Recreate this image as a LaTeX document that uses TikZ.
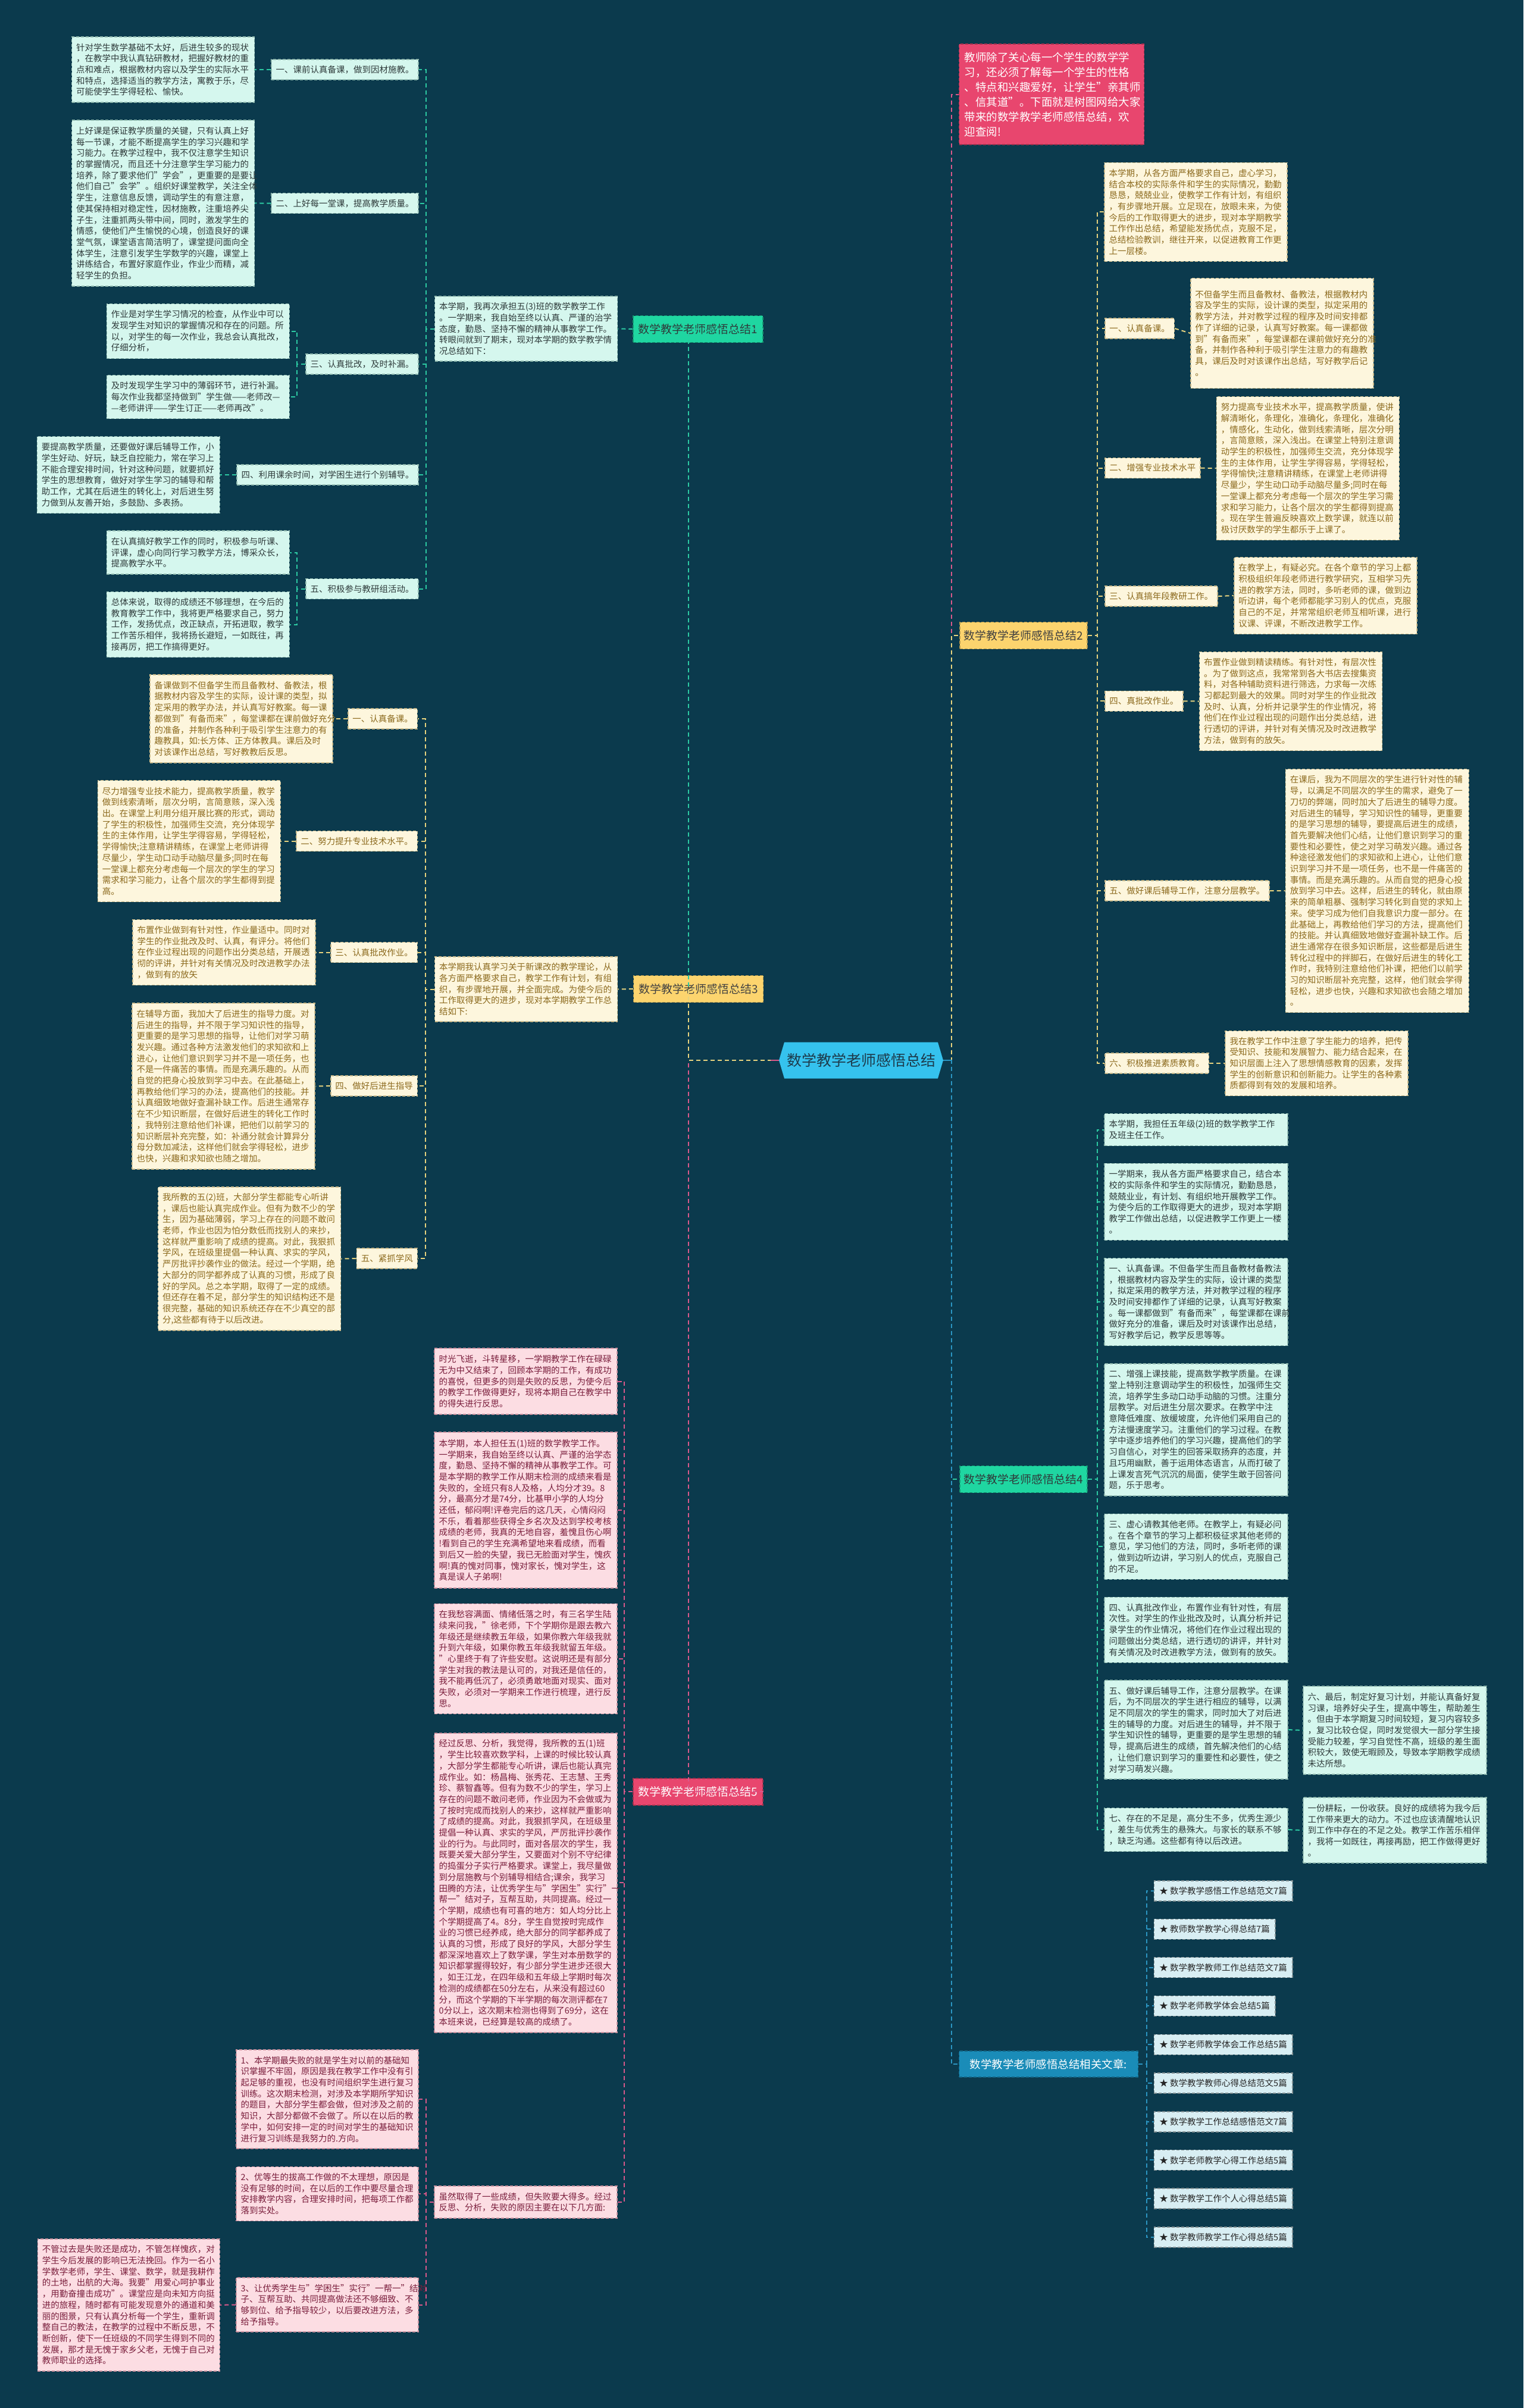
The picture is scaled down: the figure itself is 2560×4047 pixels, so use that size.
\documentclass[tikz,border=0pt]{standalone}
\usepackage{fontspec}
\setmainfont{Noto Sans CJK SC}
\usetikzlibrary{shapes.symbols}
\definecolor{bg}{HTML}{0B3A4D}
\definecolor{mint}{HTML}{D5F7EE}
\definecolor{mintb}{HTML}{8FB8AE}
\definecolor{gtext}{HTML}{2E3A3A}
\definecolor{cream}{HTML}{FDF6DD}
\definecolor{creamb}{HTML}{C9B98A}
\definecolor{ytext}{HTML}{8C6A1E}
\definecolor{pinkl}{HTML}{FCDDE3}
\definecolor{pinkb}{HTML}{C9909E}
\definecolor{ptext}{HTML}{7A1E3C}
\definecolor{hubgreen}{HTML}{1FD6A1}
\definecolor{hubyellow}{HTML}{FCD46E}
\definecolor{hubpink}{HTML}{E8466E}
\definecolor{hubblue}{HTML}{1A8CB8}
\definecolor{itemblue}{HTML}{D8EEF3}
\definecolor{hexblue}{HTML}{35C2EE}
\definecolor{hextext}{HTML}{1D3B4C}
\definecolor{cgreen}{HTML}{2CC9A2}
\definecolor{cyellow}{HTML}{E6D27E}
\definecolor{cpink}{HTML}{D9588A}
\definecolor{cblue}{HTML}{2B95C2}
\newcommand\bt{\fontsize{14.5}{18.7}\selectfont}
\newcommand\hf{\fontsize{19}{24}\selectfont}
\newcommand\itf{\fontsize{18.5}{25}\selectfont}
\newcommand\hxf{\fontsize{25}{30}\selectfont}
\tikzset{
  conn/.style={line width=2pt, dash pattern=on 7pt off 5pt},
  cg/.style={conn, draw=cgreen},
  cy/.style={conn, draw=cyellow},
  cp/.style={conn, draw=cpink},
  cb/.style={conn, draw=cblue},
  box/.style={rectangle, line width=1.5pt, dash pattern=on 5pt off 3pt, inner xsep=7.5pt, inner ysep=3pt, align=left, font=\bt},
  gbox/.style={box, fill=mint, draw=mintb, text=gtext},
  ybox/.style={box, fill=cream, draw=creamb, text=ytext},
  pbox/.style={box, fill=pinkl, draw=pinkb, text=ptext},
  lab/.style={minimum height=34},
  hub/.style={rectangle, line width=1.5pt, dash pattern=on 5pt off 3pt, font=\hf, minimum height=45, inner xsep=6pt},
  hubg/.style={hub, fill=hubgreen, draw=hubgreen!70!black, text=gtext},
  huby/.style={hub, fill=hubyellow, draw=hubyellow!70!black, text=black!75},
  hubp/.style={hub, fill=hubpink, draw=hubpink!70!black, text=white},
  hubb/.style={hub, fill=hubblue, draw=hubblue!70!black, text=white, font=\itf},
  itembox/.style={rectangle, line width=1.5pt, dash pattern=on 5pt off 3pt, fill=itemblue, draw=itemblue!60!black, text=black!85, font=\bt, minimum height=34, inner xsep=9pt, anchor=west},
}
\begin{document}
\begin{tikzpicture}[x=1pt,y=-1pt]
\fill[bg] (0,0) rectangle (2560,4047);
\useasboundingbox (0,0) rectangle (2560,4047);

% ---------- centre ----------
\node[signal, signal to=east and west, signal pointer angle=147, fill=hexblue, text=hextext, font=\hxf, minimum width=276, minimum height=61] (hex) at (1447,1782) {数学教学老师感悟总结};

% ---------- hub 1 ----------
\node[hubg, minimum width=218] (H1) at (1173,553) {数学教学老师感悟总结1};
\node[gbox, text width=292, minimum height=109] (H1T) at (884,552.5) {本学期，我再次承担五(3)班的数学教学工作\\。一学期来，我自始至终以认真、严谨的治学\\态度，勤恳、坚持不懈的精神从事教学工作。\\转眼间就到了期末，现对本学期的数学教学情\\况总结如下：};
\node[gbox, lab, anchor=east] (L1) at (703.8,117) {一、课前认真备课，做到因材施教。};
\node[gbox, text width=292, minimum height=110] (A1) at (274,117) {针对学生数学基础不太好，后进生较多的现状\\，在教学中我认真钻研教材，把握好教材的重\\点和难点，根据教材内容以及学生的实际水平\\和特点，选择适当的教学方法，寓教于乐，尽\\可能使学生学得轻松、愉快。};
\node[gbox, lab, anchor=east] (L2) at (703.8,341.7) {二、上好每一堂课，提高教学质量。};
\node[gbox, text width=292, minimum height=279] (A2) at (274,341.4) {上好课是保证教学质量的关键，只有认真上好\\每一节课，才能不断提高学生的学习兴趣和学\\习能力。在教学过程中，我不仅注意学生知识\\的掌握情况，而且还十分注意学生学习能力的\\培养，除了要求他们"学会"，更重要的是要让\\他们自己"会学"。组织好课堂教学，关注全体\\学生，注意信息反馈，调动学生的有意注意，\\使其保持相对稳定性，因材施教，注重培养尖\\子生，注重抓两头带中间，同时，激发学生的\\情感，使他们产生愉悦的心境，创造良好的课\\堂气氛，课堂语言简洁明了，课堂提问面向全\\体学生，注意引发学生学数学的兴趣，课堂上\\讲练结合，布置好家庭作业，作业少而精，减\\轻学生的负担。};
\node[gbox, lab, anchor=east] (L3) at (703.8,612) {三、认真批改，及时补漏。};
\node[gbox, text width=292, minimum height=92] (A3a) at (332.8,556.5) {作业是对学生学习情况的检查，从作业中可以\\发现学生对知识的掌握情况和存在的问题。所\\以，对学生的每一次作业，我总会认真批改，\\仔细分析，};
\node[gbox, text width=292, minimum height=73] (A3b) at (332.8,667) {及时发现学生学习中的薄弱环节，进行补漏。\\每次作业我都坚持做到"学生做——老师改—\\—老师讲评——学生订正——老师再改"。};
\node[gbox, lab, anchor=east] (L4) at (703.8,798) {四、利用课余时间，对学困生进行个别辅导。};
\node[gbox, text width=292, minimum height=129] (A4) at (215.8,798) {要提高教学质量，还要做好课后辅导工作，小\\学生好动、好玩，缺乏自控能力，常在学习上\\不能合理安排时间，针对这种问题，就要抓好\\学生的思想教育，做好对学生学习的辅导和帮\\助工作，尤其在后进生的转化上，对后进生努\\力做到从友善开始，多鼓励、多表扬。};
\node[gbox, lab, anchor=east] (L5) at (703.8,989.5) {五、积极参与教研组活动。};
\node[gbox, text width=292, minimum height=73] (A5a) at (332.8,928.5) {在认真搞好教学工作的同时，积极参与听课、\\评课，虚心向同行学习教学方法，博采众长，\\提高教学水平。};
\node[gbox, text width=292, minimum height=110] (A5b) at (332.8,1049.5) {总体来说，取得的成绩还不够理想，在今后的\\教育教学工作中，我将更严格要求自己，努力\\工作，发扬优点，改正缺点，开拓进取，教学\\工作苦乐相伴，我将扬长避短，一如既往，再\\接再厉，把工作搞得更好。};

% ---------- hub 3 ----------
\node[huby, minimum width=218] (H3) at (1173.7,1662) {数学教学老师感悟总结3};
\node[ybox, text width=292, minimum height=109] (H3T) at (884,1662.5) {本学期我认真学习关于新课改的教学理论，从\\各方面严格要求自己，教学工作有计划，有组\\织，有步骤地开展，并全面完成。为使今后的\\工作取得更大的进步，现对本学期教学工作总\\结如下:};
\node[ybox, lab, anchor=east] (LB1) at (702,1208) {一、认真备课。};
\node[ybox, text width=292, minimum height=148] (B1) at (405.6,1208) {备课做到不但备学生而且备教材、备教法，根\\据教材内容及学生的实际，设计课的类型，拟\\定采用的教学办法，并认真写好教案。每一课\\都做到"有备而来"，每堂课都在课前做好充分\\的准备，并制作各种利于吸引学生注意力的有\\趣教具，如:长方体、正方体教具。课后及时\\对该课作出总结，写好教教后反思。};
\node[ybox, lab, anchor=east] (LB2) at (702,1413.7) {二、努力提升专业技术水平。};
\node[ybox, text width=292, minimum height=204] (B2) at (317.9,1413.7) {尽力增强专业技术能力，提高教学质量，教学\\做到线索清晰，层次分明，言简意赅，深入浅\\出。在课堂上利用分组开展比赛的形式，调动\\了学生的积极性，加强师生交流，充分体现学\\生的主体作用，让学生学得容易，学得轻松，\\学得愉快;注意精讲精练，在课堂上老师讲得\\尽量少，学生动口动手动脑尽量多;同时在每\\一堂课上都充分考虑每一个层次的学生的学习\\需求和学习能力，让各个层次的学生都得到提\\高。};
\node[ybox, lab, anchor=east] (LB3) at (702,1600.5) {三、认真批改作业。};
\node[ybox, text width=292, minimum height=110] (B3) at (376.5,1600.5) {布置作业做到有针对性，作业量适中。同时对\\学生的作业批改及时、认真，有评分。将他们\\在作业过程出现的问题作出分类总结，开展透\\彻的评讲，并针对有关情况及时改进教学办法\\，做到有的放矢};
\node[ybox, lab, anchor=east] (LB4) at (702,1825) {四、做好后进生指导};
\node[ybox, text width=292, minimum height=279] (B4) at (375.7,1825.5) {在辅导方面，我加大了后进生的指导力度。对\\后进生的指导，并不限于学习知识性的指导，\\更重要的是学习思想的指导，让他们对学习萌\\发兴趣。通过各种方法激发他们的求知欲和上\\进心，让他们意识到学习并不是一项任务，也\\不是一件痛苦的事情。而是充满乐趣的。从而\\自觉的把身心投放到学习中去。在此基础上，\\再教给他们学习的办法，提高他们的技能。并\\认真细致地做好查漏补缺工作。后进生通常存\\在不少知识断层，在做好后进生的转化工作时\\，我特别注意给他们补课，把他们以前学习的\\知识断层补充完整，如：补通分就会计算异分\\母分数加减法，这样他们就会学得轻松，进步\\也快，兴趣和求知欲也随之增加。};
\node[ybox, lab, anchor=east] (LB5) at (702,2115) {五、紧抓学风};
\node[ybox, text width=292, minimum height=241] (B5) at (419,2115.5) {我所教的五(2)班，大部分学生都能专心听讲\\，课后也能认真完成作业。但有为数不少的学\\生，因为基础薄弱，学习上存在的问题不敢问\\老师，作业也因为怕分数低而找别人的来抄，\\这样就严重影响了成绩的提高。对此，我狠抓\\学风，在班级里提倡一种认真、求实的学风，\\严厉批评抄袭作业的做法。经过一个学期，绝\\大部分的同学都养成了认真的习惯，形成了良\\好的学风。总之本学期，取得了一定的成绩。\\但还存在着不足，部分学生的知识结构还不是\\很完整，基础的知识系统还存在不少真空的部\\分,这些都有待于以后改进。};

% ---------- hub 5 ----------
\node[hubp, minimum width=218] (H5) at (1173,3011.3) {数学教学老师感悟总结5};
\node[pbox, text width=292, minimum height=111] (C1) at (883.7,2321.5) {时光飞逝，斗转星移，一学期教学工作在碌碌\\无为中又结束了，回顾本学期的工作，有成功\\的喜悦，但更多的则是失败的反思，为使今后\\的教学工作做得更好，现将本期自己在教学中\\的得失进行反思。};
\node[pbox, text width=292, minimum height=262] (C2) at (883.7,2538) {本学期，本人担任五(1)班的数学教学工作。\\一学期来，我自始至终以认真、严谨的治学态\\度，勤恳、坚持不懈的精神从事教学工作。可\\是本学期的教学工作从期末检测的成绩来看是\\失败的，全班只有8人及格，人均分才39。8\\分，最高分才是74分，比基甲小学的人均分\\还低，郁闷啊!评卷完后的这几天，心情闷闷\\不乐，看着那些获得全乡名次及达到学校考核\\成绩的老师，我真的无地自容，羞愧且伤心啊\\!看到自己的学生充满希望地来看成绩，而看\\到后又一脸的失望，我已无脸面对学生，愧疚\\啊!真的愧对同事，愧对家长，愧对学生，这\\真是误人子弟啊!};
\node[pbox, text width=292, minimum height=185] (C3) at (883.7,2787.8) {在我愁容满面、情绪低落之时，有三名学生陆\\续来问我，"徐老师，下个学期你是跟去教六\\年级还是继续教五年级，如果你教六年级我就\\升到六年级，如果你教五年级我就留五年级。\\"心里终于有了许些安慰。这说明还是有部分\\学生对我的教法是认可的，对我还是信任的，\\我不能再低沉了，必须勇敢地面对现实、面对\\失败，必须对一学期来工作进行梳理，进行反\\思。};
\node[pbox, text width=292, minimum height=503] (C4) at (883.7,3164.3) {经过反思、分析，我觉得，我所教的五(1)班\\，学生比较喜欢数学科，上课的时候比较认真\\，大部分学生都能专心听讲，课后也能认真完\\成作业。如：杨昌梅、张秀花、王志慧、王秀\\珍、蔡智鑫等。但有为数不少的学生，学习上\\存在的问题不敢问老师，作业因为不会做或为\\了按时完成而找别人的来抄，这样就严重影响\\了成绩的提高。对此，我狠抓学风，在班级里\\提倡一种认真、求实的学风，严厉批评抄袭作\\业的行为。与此同时，面对各层次的学生，我\\既要关爱大部分学生，又要面对个别不守纪律\\的捣蛋分子实行严格要求。课堂上，我尽量做\\到分层施教与个别辅导相结合;课余，我学习\\田腾的方法，让优秀学生与"学困生"实行"一\\帮一"结对子，互帮互助，共同提高。经过一\\个学期，成绩也有可喜的地方：如人均分比上\\个学期提高了4。8分，学生自觉按时完成作\\业的习惯已经养成，绝大部分的同学都养成了\\认真的习惯，形成了良好的学风，大部分学生\\都深深地喜欢上了数学课，学生对本册数学的\\知识都掌握得较好，有少部分学生进步还很大\\，如王江龙，在四年级和五年级上学期时每次\\检测的成绩都在50分左右，从来没有超过60\\分，而这个学期的下半学期的每次测评都在7\\0分以上，这次期末检测也得到了69分，这在\\本班来说，已经算是较高的成绩了。};
\node[pbox, text width=292, minimum height=54] (C5) at (883.7,3701) {虽然取得了一些成绩，但失败要大得多。经过\\反思、分析，失败的原因主要在以下几方面:};
\node[pbox, text width=291, minimum height=166] (D1) at (550,3528) {1、本学期最失败的就是学生对以前的基础知\\识掌握不牢固，原因是我在教学工作中没有引\\起足够的重视，也没有时间组织学生进行复习\\训练。这次期末检测，对涉及本学期所学知识\\的题目，大部分学生都会做，但对涉及之前的\\知识，大部分都做不会做了。所以在以后的教\\学中，如何安排一定的时间对学生的基础知识\\进行复习训练是我努力的.方向。};
\node[pbox, text width=291, minimum height=91] (D2) at (550,3687) {2、优等生的拔高工作做的不太理想，原因是\\没有足够的时间，在以后的工作中要尽量合理\\安排教学内容，合理安排时间，把每项工作都\\落到实处。};
\node[pbox, text width=291, minimum height=91] (D3) at (550,3873.5) {3、让优秀学生与"学困生"实行"一帮一"结对\\子、互帮互助、共同提高做法还不够细致、不\\够到位、给予指导较少，以后要改进方法，多\\给予指导。};
\node[pbox, text width=291, minimum height=222] (D0) at (216.4,3873.8) {不管过去是失败还是成功，不管怎样愧疚，对\\学生今后发展的影响已无法挽回。作为一名小\\学数学老师，学生、课堂、数学，就是我耕作\\的土地，出航的大海。我要"用爱心呵护事业\\，用勤奋撞击成功"。课堂应是向未知方向挺\\进的旅程，随时都有可能发现意外的通道和美\\丽的图景，只有认真分析每一个学生，重新调\\整自己的教法，在教学的过程中不断反思，不\\断创新，使下一任班级的不同学生得到不同的\\发展，那才是无愧于家乡父老，无愧于自己对\\教师职业的选择。};

% ---------- right: intro ----------
\node[rectangle, line width=1.5pt, dash pattern=on 5pt off 3pt, fill=hubpink, draw=hubpink!70!black, text=white, font=\itf, align=left, text width=293, inner xsep=9pt, minimum height=169] (intro) at (1767,158.5) {教师除了关心每一个学生的数学学\\习，还必须了解每一个学生的性格\\、特点和兴趣爱好，让学生"亲其师\\、信其道"。下面就是树图网给大家\\带来的数学教学老师感悟总结，欢\\迎查阅!};

% ---------- hub 2 ----------
\node[huby, minimum width=214] (H2) at (1720,1068) {数学教学老师感悟总结2};
\node[ybox, text width=292, minimum height=166] (R0) at (2009.5,356.4) {本学期，从各方面严格要求自己，虚心学习，\\结合本校的实际条件和学生的实际情况，勤勤\\恳恳，兢兢业业，使教学工作有计划，有组织\\，有步骤地开展。立足现在，放眼未来，为使\\今后的工作取得更大的进步，现对本学期教学\\工作作出总结，希望能发扬优点，克服不足，\\总结检验教训，继往开来，以促进教育工作更\\上一层楼。};
\node[ybox, lab, anchor=west] (LR1) at (1856,552) {一、认真备课。};
\node[ybox, text width=292, minimum height=185] (R1) at (2154.4,560) {不但备学生而且备教材、备教法，根据教材内\\容及学生的实际，设计课的类型，拟定采用的\\教学方法，并对教学过程的程序及时间安排都\\作了详细的记录，认真写好教案。每一课都做\\到"有备而来"，每堂课都在课前做好充分的准\\备，并制作各种利于吸引学生注意力的有趣教\\具，课后及时对该课作出总结，写好教学后记\\。};
\node[ybox, lab, anchor=west] (LR2) at (1856,786.5) {二、增强专业技术水平};
\node[ybox, text width=292, minimum height=241] (R2) at (2197.8,787) {努力提高专业技术水平，提高教学质量，使讲\\解清晰化，条理化，准确化，条理化，准确化\\，情感化，生动化，做到线索清晰，层次分明\\，言简意赅，深入浅出。在课堂上特别注意调\\动学生的积极性，加强师生交流，充分体现学\\生的主体作用，让学生学得容易，学得轻松，\\学得愉快;注意精讲精练，在课堂上老师讲得\\尽量少，学生动口动手动脑尽量多;同时在每\\一堂课上都充分考虑每一个层次的学生学习需\\求和学习能力，让各个层次的学生都得到提高\\。现在学生普遍反映喜欢上数学课，就连以前\\极讨厌数学的学生都乐于上课了。};
\node[ybox, lab, anchor=west] (LR3) at (1856,1002) {三、认真搞年段教研工作。};
\node[ybox, text width=292, minimum height=129] (R3) at (2227.3,1001) {在教学上，有疑必究。在各个章节的学习上都\\积极组织年段老师进行教学研究，互相学习先\\进的教学方法，同时，多听老师的课，做到边\\听边讲，每个老师都能学习别人的优点，克服\\自己的不足，并常常组织老师互相听课，进行\\议课、评课，不断改进教学工作。};
\node[ybox, lab, anchor=west] (LR4) at (1856,1178.4) {四、真批改作业。};
\node[ybox, text width=292, minimum height=166] (R4) at (2169,1178.5) {布置作业做到精读精练。有针对性，有层次性\\。为了做到这点，我常常到各大书店去搜集资\\料，对各种辅助资料进行筛选，力求每一次练\\习都起到最大的效果。同时对学生的作业批改\\及时、认真，分析并记录学生的作业情况，将\\他们在作业过程出现的问题作出分类总结，进\\行透切的评讲，并针对有关情况及时改进教学\\方法，做到有的放矢。};
\node[ybox, lab, anchor=west] (LR5) at (1856,1497) {五、做好课后辅导工作，注意分层教学。};
\node[ybox, text width=293, minimum height=409] (R5) at (2314.3,1497.2) {在课后，我为不同层次的学生进行针对性的辅\\导，以满足不同层次的学生的需求，避免了一\\刀切的弊端，同时加大了后进生的辅导力度。\\对后进生的辅导，学习知识性的辅导，更重要\\的是学习思想的辅导，要提高后进生的成绩，\\首先要解决他们心结，让他们意识到学习的重\\要性和必要性，使之对学习萌发兴趣。通过各\\种途径激发他们的求知欲和上进心，让他们意\\识到学习并不是一项任务，也不是一件痛苦的\\事情。而是充满乐趣的。从而自觉的把身心投\\放到学习中去。这样，后进生的转化，就由原\\来的简单粗暴、强制学习转化到自觉的求知上\\来。使学习成为他们自我意识力度一部分。在\\此基础上，再教给他们学习的方法，提高他们\\的技能。并认真细致地做好查漏补缺工作。后\\进生通常存在很多知识断层，这些都是后进生\\转化过程中的拌脚石，在做好后进生的转化工\\作时，我特别注意给他们补课，把他们以前学\\习的知识断层补充完整，这样，他们就会学得\\轻松，进步也快，兴趣和求知欲也会随之增加\\。};
\node[ybox, lab, anchor=west] (LR6) at (1856,1787) {六、积极推进素质教育。};
\node[ybox, text width=292, minimum height=109] (R6) at (2212.5,1787) {我在教学工作中注意了学生能力的培养，把传\\受知识、技能和发展智力、能力结合起来，在\\知识层面上注入了思想情感教育的因素，发挥\\学生的创新意识和创新能力。让学生的各种素\\质都得到有效的发展和培养。};

% ---------- hub 4 ----------
\node[hubg, minimum width=214] (H4) at (1720,2486) {数学教学老师感悟总结4};
\node[gbox, text width=293, minimum height=54] (G0) at (2010,1898.5) {本学期，我担任五年级(2)班的数学教学工作\\及班主任工作。};
\node[gbox, text width=293, minimum height=129] (G1) at (2010,2019.8) {一学期来，我从各方面严格要求自己，结合本\\校的实际条件和学生的实际情况，勤勤恳恳，\\兢兢业业，有计划、有组织地开展教学工作。\\为使今后的工作取得更大的进步，现对本学期\\教学工作做出总结，以促进教学工作更上一楼\\。};
\node[gbox, text width=293, minimum height=147] (G2) at (2010,2188) {一、认真备课。不但备学生而且备教材备教法\\，根据教材内容及学生的实际，设计课的类型\\，拟定采用的教学方法，并对教学过程的程序\\及时间安排都作了详细的记录，认真写好教案\\。每一课都做到"有备而来"，每堂课都在课前\\做好充分的准备，课后及时对该课作出总结，\\写好教学后记，教学反思等等。};
\node[gbox, text width=293, minimum height=222] (G3) at (2010,2402.8) {二、增强上课技能，提高数学教学质量。在课\\堂上特别注意调动学生的积极性，加强师生交\\流，培养学生多动口动手动脑的习惯。注重分\\层教学。对后进生分层次要求。在教学中注\\意降低难度、放缓坡度，允许他们采用自己的\\方法慢速度学习。注重他们的学习过程。在教\\学中逐步培养他们的学习兴趣，提高他们的学\\习自信心，对学生的回答采取扬弃的态度，并\\且巧用幽默，善于运用体态语言，从而打破了\\上课发言死气沉沉的局面，使学生敢于回答问\\题，乐于思考。};
\node[gbox, text width=293, minimum height=110] (G4) at (2010,2599.3) {三、虚心请教其他老师。在教学上，有疑必问\\。在各个章节的学习上都积极征求其他老师的\\意见，学习他们的方法，同时，多听老师的课\\，做到边听边讲，学习别人的优点，克服自己\\的不足。};
\node[gbox, text width=293, minimum height=110] (G5) at (2010,2739.3) {四、认真批改作业，布置作业有针对性，有层\\次性。对学生的作业批改及时，认真分析并记\\录学生的作业情况，将他们在作业过程出现的\\问题做出分类总结，进行透切的讲评，并针对\\有关情况及时改进教学方法，做到有的放矢。};
\node[gbox, text width=293, minimum height=166] (G6) at (2010,2907) {五、做好课后辅导工作，注意分层教学。在课\\后，为不同层次的学生进行相应的辅导，以满\\足不同层次的学生的需求，同时加大了对后进\\生的辅导的力度。对后进生的辅导，并不限于\\学生知识性的辅导，更重要的是学生思想的辅\\导，提高后进生的成绩，首先解决他们的心结\\，让他们意识到学习的重要性和必要性，使之\\对学习萌发兴趣。};
\node[gbox, text width=293, minimum height=148] (G6b) at (2344,2908) {六、最后，制定好复习计划，并能认真备好复\\习课，培养好尖子生，提高中等生，帮助差生\\。但由于本学期复习时间较短，复习内容较多\\，复习比较仓促，同时发觉很大一部分学生接\\受能力较差，学习自觉性不高，班级的差生面\\积较大，致使无暇顾及，导致本学期教学成绩\\未达所想。};
\node[gbox, text width=293, minimum height=73] (G7) at (2010,3075) {七、存在的不足是，高分生不多，优秀生源少\\，差生与优秀生的悬殊大。与家长的联系不够\\，缺乏沟通。这些都有待以后改进。};
\node[gbox, text width=293, minimum height=110] (G7b) at (2344,3076) {一份耕耘，一份收获。良好的成绩将为我今后\\工作带来更大的动力。不过也应该清醒地认识\\到工作中存在的不足之处。教学工作苦乐相伴\\，我将一如既往，再接再励，把工作做得更好\\。};

% ---------- related ----------
\node[hubb, minimum width=301, minimum height=44] (RL) at (1762,3469) {数学教学老师感悟总结相关文章:};
\node[itembox] (I1) at (1938.7,3178) {★ 数学教学感悟工作总结范文7篇};
\node[itembox] (I2) at (1938.7,3242.4) {★ 教师数学教学心得总结7篇};
\node[itembox] (I3) at (1938.7,3306.5) {★ 数学教学教师工作总结范文7篇};
\node[itembox] (I4) at (1938.7,3371.4) {★ 数学老师教学体会总结5篇};
\node[itembox] (I5) at (1938.7,3436.4) {★ 数学老师教学体会工作总结5篇};
\node[itembox] (I6) at (1938.7,3500.9) {★ 数学教学教师心得总结范文5篇};
\node[itembox] (I7) at (1938.7,3565.8) {★ 数学教学工作总结感悟范文7篇};
\node[itembox] (I8) at (1938.7,3630.4) {★ 数学老师教学心得工作总结5篇};
\node[itembox] (I9) at (1938.7,3694.9) {★ 数学教学工作个人心得总结5篇};
\node[itembox] (I10) at (1938.7,3759.8) {★ 数学教师教学工作心得总结5篇};

% ---------- connectors: main ----------
\draw[cg] (hex.west) -- ++(-151.5,0) |- (H1.east);
\draw[cp] (hex.west) -- ++(-151.5,0) |- (H5.east);
\draw[cy] (hex.west) -- ++(-151.5,0) |- (H3.east);
\draw[cp] (hex.east) -- ++(13.5,0) |- (intro.west);
\draw[cg] (hex.east) -- ++(13.5,0) |- (H4.west);
\draw[cy] (hex.east) -- ++(13.5,0) |- (H2.west);
\draw[cb] (hex.east) -- ++(13.5,0) |- (RL.west);
\draw[line width=2pt, draw=cpink] (hex.west) -- ++(-13.5,0);
\draw[line width=2pt, draw=cblue] (hex.east) -- ++(13.5,0);

% ---------- connectors: hub 1 ----------
\draw[cg] (H1.west) -- (H1T.east);
\foreach \c in {L1,L2,L3,L4,L5} \draw[cg] (H1T.west) -- ++(-14,0) |- (\c.east);
\draw[cg] (L1.west) -- (A1.east);
\draw[cg] (L2.west) -- (A2.east);
\draw[cg] (L3.west) -- ++(-14,0) |- (A3a.east);
\draw[cg] (L3.west) -- ++(-14,0) |- (A3b.east);
\draw[cg] (L4.west) -- (A4.east);
\draw[cg] (L5.west) -- ++(-14,0) |- (A5a.east);
\draw[cg] (L5.west) -- ++(-14,0) |- (A5b.east);

% ---------- connectors: hub 3 ----------
\draw[cy] (H3.west) -- (H3T.east);
\foreach \c in {LB1,LB2,LB3,LB4,LB5} \draw[cy] (H3T.west) -- ++(-15,0) |- (\c.east);
\foreach \a/\b in {LB1/B1,LB2/B2,LB3/B3,LB4/B4,LB5/B5} \draw[cy] (\a.west) -- (\b.east);

% ---------- connectors: hub 5 ----------
\foreach \c in {C1,C2,C3,C4,C5} \draw[cp] (H5.west) -- ++(-14,0) |- (\c.east);
\foreach \c in {D1,D2,D3} \draw[cp] (C5.west) -- ++(-13.5,0) |- (\c.east);
\draw[cp] (D3.west) -- (D0.east);

% ---------- connectors: hub 2 ----------
\foreach \c in {R0,LR1,LR2,LR3,LR4,LR5,LR6} \draw[cy] (H2.east) -- ++(16,0) |- (\c.west);
\foreach \a/\b in {LR1/R1,LR2/R2,LR3/R3,LR4/R4,LR5/R5,LR6/R6} \draw[cy] (\a.east) -- (\b.west);

% ---------- connectors: hub 4 ----------
\foreach \c in {G0,G1,G2,G3,G4,G5,G6,G7} \draw[cg] (H4.east) -- ++(16,0) |- (\c.west);
\draw[cg] (G6.east) -- (G6b.west);
\draw[cg] (G7.east) -- (G7b.west);

% ---------- connectors: related ----------
\foreach \c in {I1,I2,I3,I4,I5,I6,I7,I8,I9,I10} \draw[cb] (RL.east) -- ++(13.3,0) |- (\c.west);
\end{tikzpicture}
\end{document}
